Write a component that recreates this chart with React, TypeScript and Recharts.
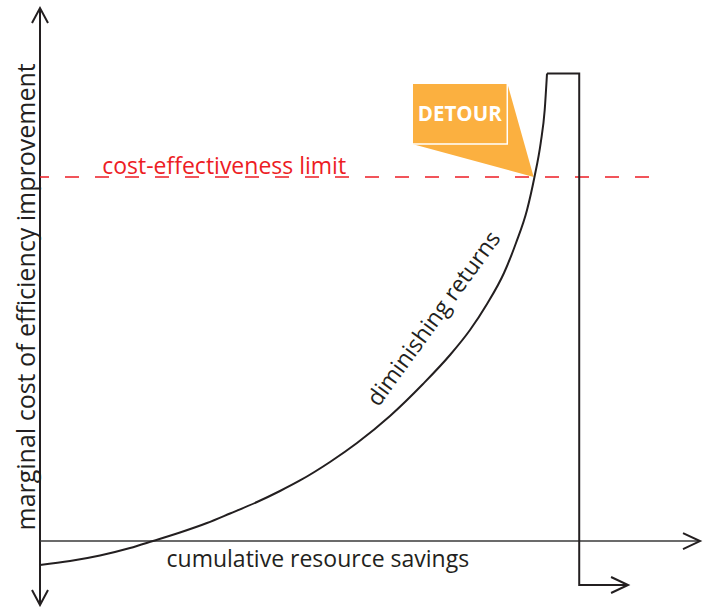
import React from 'react';
import { LineChart, Line, XAxis, YAxis, ReferenceLine, ReferenceDot, ReferenceArea } from 'recharts';

// x: cumulative resource savings (0..100), y: marginal cost (0 at the x axis)
const curveX = [0, 4.55, 9.09, 13.64, 17.12, 21.21, 25.3, 28.79, 32.88, 36.36, 39.39, 43.94, 48.03, 53.03, 58.03, 62.12, 65.15, 67.73, 70.3, 72.12, 73.79, 74.92, 75.86, 76.47, 76.82];
const curveY = [-4.5, -3.75, -2.71, -1.31, 0.01, 1.6, 3.38, 5.17, 7.32, 9.39, 11.36, 14.83, 18.39, 23.46, 29.46, 34.9, 39.59, 44.47, 50.28, 55.91, 62.1, 68.29, 74.67, 80.86, 87.7];
const detourX = [76.82, 81.7, 81.7, 89.1];
const detourY = [87.7, 87.7, -8.25, -8.25];

const X_DOMAIN: [number, number] = [0, 100];
const Y_DOMAIN: [number, number] = [-12, 100];
const COST_LIMIT = 68.3;
const LIMIT_END = 92.3;

// callout: box corners and pointer tip (data units)
const boxX = [56.4, 70.8];
const boxY = [74.5, 85.9];
const tip = { x: 74.8, y: 68.3 };

const labels = {
  x: 'cumulative resource savings',
  y: 'marginal cost of efficiency improvement',
  limit: 'cost-effectiveness limit',
  curve: 'diminishing returns',
  detour: 'DETOUR',
};

const curveData = curveX.map((x, i) => ({ x, y: curveY[i] }));
const detourData = detourX.map((x, i) => ({ x, y: detourY[i] }));

const FONT = "'Open Sans', 'Noto Sans', sans-serif";
const INK = '#231f20';
const RED = '#ed1c24';
const ORANGE = '#fbb040';

type Dir = 'up' | 'down' | 'right';
const chevron = (dir: Dir) => (props: any) => {
  const { cx, cy } = props;
  if (cx == null || cy == null) return <g />;
  let pts = '';
  if (dir === 'up') pts = `${cx - 8},${cy + 15} ${cx},${cy} ${cx + 8},${cy + 15}`;
  if (dir === 'down') pts = `${cx - 8},${cy - 15} ${cx},${cy} ${cx + 8},${cy - 15}`;
  if (dir === 'right') pts = `${cx - 17},${cy - 8} ${cx},${cy} ${cx - 17},${cy + 8}`;
  return <polyline points={pts} fill="none" stroke={INK} strokeWidth={2} />;
};

const textShape = (text: string, opts: { dx?: number; dy?: number; rotate?: number; size: number; fill?: string }) =>
  (props: any) => {
    const { cx, cy } = props;
    if (cx == null || cy == null) return <g />;
    const x = cx + (opts.dx || 0);
    const y = cy + (opts.dy || 0);
    return (
      <text
        x={x}
        y={y}
        fill={opts.fill || INK}
        fontFamily={FONT}
        fontSize={opts.size}
        textAnchor="middle"
        transform={opts.rotate ? `rotate(${opts.rotate} ${x} ${y})` : undefined}
      >
        {text}
      </text>
    );
  };

const pointerShape = (props: any) => {
  const { x, y, width, height } = props;
  if (x == null) return <g />;
  const u1 = boxX[0], u2 = tip.x, v1 = tip.y, v2 = boxY[1];
  const px = (u: number) => x + ((u - u1) / (u2 - u1)) * width;
  const py = (v: number) => y + ((v2 - v) / (v2 - v1)) * height;
  const pts = [
    [boxX[0], boxY[0]],
    [boxX[1], boxY[1]],
    [tip.x, tip.y],
  ]
    .map(([u, v]) => `${px(u)},${py(v)}`)
    .join(' ');
  return <polygon points={pts} fill={ORANGE} stroke="none" />;
};

export default function App() {
  return (
    <div style={{ position: 'absolute', left: 0, top: 0, width: 709, height: 607, background: '#fff' }}>
      <LineChart width={709} height={607} margin={{ top: 8, right: 9, bottom: 2, left: 40 }}>
        <XAxis type="number" dataKey="x" domain={X_DOMAIN} hide />
        <YAxis type="number" dataKey="y" domain={Y_DOMAIN} hide />

        {/* axes */}
        <ReferenceLine segment={[{ x: 0, y: Y_DOMAIN[0] }, { x: 0, y: Y_DOMAIN[1] }]} stroke={INK} strokeWidth={2} ifOverflow="visible" />
        <ReferenceLine segment={[{ x: 0, y: 0 }, { x: X_DOMAIN[1], y: 0 }]} stroke="#3a3a3a" strokeWidth={1.5} ifOverflow="visible" />
        <ReferenceDot x={0} y={Y_DOMAIN[1]} ifOverflow="visible" shape={chevron('up')} />
        <ReferenceDot x={0} y={Y_DOMAIN[0]} ifOverflow="visible" shape={chevron('down')} />
        <ReferenceDot x={X_DOMAIN[1]} y={0} ifOverflow="visible" shape={chevron('right')} />

        {/* cost-effectiveness limit */}
        <ReferenceLine
          segment={[{ x: 0, y: COST_LIMIT }, { x: LIMIT_END, y: COST_LIMIT }]}
          stroke={RED}
          strokeWidth={1.5}
          strokeDasharray="14 16"
          strokeDashoffset={5}
          ifOverflow="visible"
        />

        {/* callout */}
        <ReferenceArea x1={boxX[0]} x2={tip.x} y1={tip.y} y2={boxY[1]} ifOverflow="visible" shape={pointerShape} />
        <ReferenceArea
          x1={boxX[0]}
          x2={boxX[1]}
          y1={boxY[0]}
          y2={boxY[1]}
          fill={ORANGE}
          fillOpacity={1}
          stroke="#ffffff"
          strokeWidth={1.5}
          ifOverflow="visible"
          label={{ value: labels.detour, position: 'center', fill: '#ffffff', fontSize: 20.5, fontWeight: 700, fontFamily: FONT }}
        />

        {/* text labels */}
        <ReferenceDot x={27.9} y={COST_LIMIT} ifOverflow="visible" shape={textShape(labels.limit, { dy: -3, size: 23, fill: RED })} />
        <ReferenceDot x={42.1} y={0} ifOverflow="visible" shape={textShape(labels.x, { dy: 26, size: 23 })} />
        <ReferenceDot x={0} y={45.8} ifOverflow="visible" shape={textShape(labels.y, { dx: -5, rotate: -90, size: 25 })} />
        <ReferenceDot x={60.6} y={40.9} ifOverflow="visible" shape={textShape(labels.curve, { rotate: -54, size: 23 })} />

        {/* curves */}
        <Line data={curveData} dataKey="y" type="monotone" stroke={INK} strokeWidth={2} dot={false} activeDot={false} isAnimationActive={false} />
        <Line data={detourData} dataKey="y" type="linear" stroke={INK} strokeWidth={2} dot={false} activeDot={false} isAnimationActive={false} />
        <ReferenceDot x={detourX[detourX.length - 1]} y={detourY[detourY.length - 1]} ifOverflow="visible" shape={chevron('right')} />
      </LineChart>
    </div>
  );
}
